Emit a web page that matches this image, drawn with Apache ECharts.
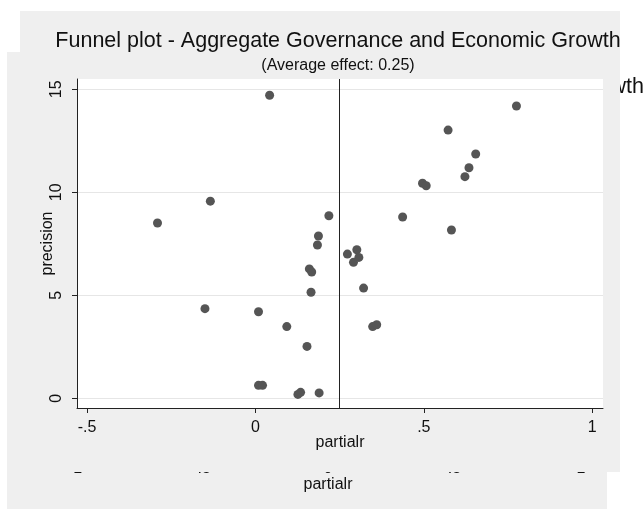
<!DOCTYPE html>
<html>
<head>
<meta charset="utf-8">
<script src="https://cdn.jsdelivr.net/npm/echarts@6/dist/echarts.min.js"></script>
<style>
  html, body { margin: 0; padding: 0; background: #ffffff; }
  #chart { width: 644px; height: 509px; }
</style>
</head>
<body>
<div id="chart"></div>
<script>
// Funnel plot: partial correlation (x) against precision (y)
const titleText = 'Funnel plot - Aggregate Governance and Economic Growth';
const averageEffect = 0.25;

const partialR = [
  0.042, -0.134, -0.291, 0.218, 0.187, 0.184, 0.273, 0.301, 0.307, 0.291,
  0.160, 0.167, 0.321, 0.165, -0.150, 0.009, 0.093, 0.348, 0.360, 0.153,
  0.009, 0.021, 0.126, 0.134, 0.189, 0.775, 0.572, 0.654, 0.634, 0.622,
  0.496, 0.507, 0.437, 0.582
];
const precision = [
  14.71, 9.57, 8.51, 8.86, 7.88, 7.44, 7.00, 7.21, 6.84, 6.60,
  6.28, 6.13, 5.35, 5.15, 4.35, 4.20, 3.48, 3.48, 3.57, 2.52,
  0.63, 0.63, 0.19, 0.29, 0.26, 14.19, 13.02, 11.86, 11.19, 10.76,
  10.44, 10.32, 8.80, 8.17
];

const xTicks = [-0.5, 0, 0.5, 1];
const yTicks = [0, 5, 10, 15];
const backXTicks = [-1, -0.5, 0, 0.5, 1];

const FONT = 'Liberation Sans, Arial, Helvetica, sans-serif';
const PANEL = '#efefef';
const INK = '#111111';

// Stata-style number format: ".5", "-.5"
const stataNum = v => String(v).replace(/^(-?)0\./, '$1.');

const points = partialR.map((x, i) => [x, precision[i]]);

const chart = echarts.init(document.getElementById('chart'), null, { renderer: 'canvas' });

chart.setOption({
  backgroundColor: '#ffffff',
  animation: false,
  textStyle: { fontFamily: FONT },
  grid: [
    {
      left: 77, right: 41, top: 79, bottom: 101,
      show: true, backgroundColor: '#ffffff', borderWidth: 0, z: 3
    },
    {
      left: 75, width: 506, top: 300, bottom: 61,
      show: false
    }
  ],
  xAxis: [
    {
      type: 'value', gridIndex: 0, z: 4,
      min: -0.530, max: 1.032,
      name: 'partialr', nameLocation: 'middle', nameGap: 27, nameMoveOverlap: false,
      nameTextStyle: { fontSize: 16, color: INK, fontFamily: FONT },
      axisLine: { show: true, onZero: false, lineStyle: { color: '#222', width: 1 } },
      axisTick: { show: true, length: 5, customValues: xTicks, lineStyle: { color: '#222' } },
      axisLabel: {
        customValues: xTicks, formatter: stataNum, margin: 12,
        fontSize: 16, color: INK, fontFamily: FONT
      },
      splitLine: { show: false }
    },
    {
      type: 'value', gridIndex: 1, z: 1,
      min: -1, max: 1,
      name: 'partialr', nameLocation: 'middle', nameGap: 29, nameMoveOverlap: false,
      nameTextStyle: { fontSize: 16, color: INK, fontFamily: FONT },
      axisLine: { show: false },
      axisTick: { show: false, customValues: backXTicks },
      axisLabel: {
        customValues: backXTicks, formatter: stataNum, margin: 12.5,
        fontSize: 16, color: INK, fontFamily: FONT
      },
      splitLine: { show: false }
    }
  ],
  yAxis: [
    {
      type: 'value', gridIndex: 0, z: 4,
      min: -0.471, max: 15.5,
      name: 'precision', nameLocation: 'middle', nameGap: 21, nameRotate: 90, nameMoveOverlap: false,
      nameTextStyle: { fontSize: 16, color: INK, fontFamily: FONT },
      axisLine: { show: true, onZero: false, lineStyle: { color: '#222', width: 1 } },
      axisTick: { show: true, length: 5, customValues: yTicks, lineStyle: { color: '#222' } },
      axisLabel: {
        customValues: yTicks, formatter: stataNum, margin: 12, rotate: 90,
        fontSize: 16, color: INK, fontFamily: FONT
      },
      splitLine: { show: true, lineStyle: { color: '#e6e6e6', width: 1 } }
    },
    {
      type: 'value', gridIndex: 1, show: false, min: 0, max: 1
    }
  ],
  graphic: {
    elements: [
      { type: 'rect', z: 0, shape: { x: 7, y: 52, width: 600, height: 457 }, style: { fill: PANEL } },
      {
        type: 'text', z: 1, x: 644, y: 87,
        style: { text: titleText, align: 'right', verticalAlign: 'middle', font: '21.5px ' + FONT, fill: INK }
      },
      { type: 'rect', z: 2, shape: { x: 20, y: 11, width: 600, height: 461 }, style: { fill: PANEL } },
      {
        type: 'text', z: 10, x: 338, y: 41,
        style: { text: titleText, align: 'center', verticalAlign: 'middle', font: '21.5px ' + FONT, fill: INK }
      },
      {
        type: 'text', z: 10, x: 338, y: 66,
        style: {
          text: '(Average effect: ' + averageEffect.toFixed(2) + ')',
          align: 'center', verticalAlign: 'middle', font: '16px ' + FONT, fill: INK
        }
      }
    ]
  },
  series: [
    {
      type: 'scatter', xAxisIndex: 0, yAxisIndex: 0, z: 5,
      data: points,
      symbol: 'circle', symbolSize: 9,
      itemStyle: { color: '#555555', opacity: 1 },
      markLine: {
        silent: true, symbol: 'none', animation: false,
        label: { show: false },
        lineStyle: { color: '#222', width: 1, type: 'solid' },
        data: [{ xAxis: averageEffect }]
      }
    }
  ]
});
</script>
</body>
</html>
